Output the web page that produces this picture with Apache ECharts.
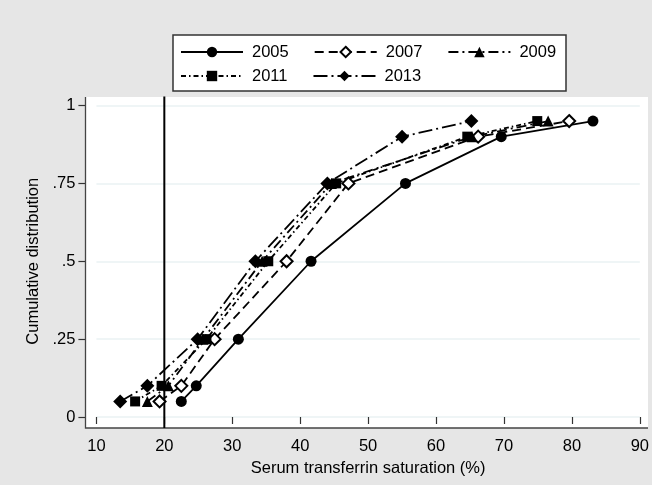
<!DOCTYPE html>
<html>
<head>
<meta charset="utf-8">
<script src="https://cdn.jsdelivr.net/npm/echarts@6/dist/echarts.min.js"></script>
<style>
html,body{margin:0;padding:0;background:#e6e6e6;}
#c{width:652px;height:485px;background:#e6e6e6;}
</style>
</head>
<body>
<div id="c"></div>
<script>
// Cumulative levels (y) and serum transferrin saturation (x, %) per survey year
const levels = [0.05, 0.10, 0.25, 0.50, 0.75, 0.90, 0.95];
const sat2005 = [22.5, 24.7, 30.9, 41.6, 55.5, 69.6, 83.1];
const sat2007 = [19.3, 22.5, 27.4, 38.0, 47.1, 66.2, 79.6];
const sat2009 = [17.5, 20.6, 25.7, 34.4, 44.6, 65.3, 76.5];
const sat2011 = [15.7, 19.6, 26.2, 35.3, 45.3, 64.6, 74.9];
const sat2013 = [13.5, 17.5, 24.9, 33.4, 44.0, 55.0, 65.2];
const years = ['2005', '2007', '2009', '2011', '2013'];
const refX = 20;
const yTickLabels = {0: '0', 0.25: '.25', 0.5: '.5', 0.75: '.75', 1: '1'};

const FONT = 'Liberation Sans, Arial, Helvetica, sans-serif';
const FS = 16.5;
const BG = '#e6e6e6';

function pts(xs) { return xs.map((x, i) => [x, levels[i]]); }

const styles = [
  {data: sat2005, symbol: 'circle', size: 11, dash: 'solid', fill: '#000'},
  {data: sat2007, symbol: 'diamond', size: 12, dash: [9, 5], fill: '#fff'},
  {data: sat2009, symbol: 'triangle', size: 11, dash: [10, 4, 2, 4], fill: '#000'},
  {data: sat2011, symbol: 'rect', size: 10, dash: [5, 3, 1.5, 3], fill: '#000'},
  {data: sat2013, symbol: 'diamond', size: 14, dash: [14, 4, 2, 4], fill: '#000'}
];

const series = years.map((y, i) => {
  const s = styles[i];
  return {
    name: y,
    type: 'line',
    data: pts(s.data),
    symbol: s.symbol,
    symbolSize: s.size,
    showAllSymbol: true,
    clip: false,
    lineStyle: {color: '#000', width: 1.8, type: s.dash},
    itemStyle: {color: s.fill, borderColor: '#000', borderWidth: s.fill === '#fff' ? 2 : 0},
    emphasis: {disabled: true},
    animation: false,
    z: 3
  };
});

series.push({
  name: 'ref',
  type: 'line',
  data: [[refX, -0.035], [refX, 1.029]],
  symbol: 'none',
  clip: false,
  lineStyle: {color: '#000', width: 2},
  silent: true,
  animation: false,
  z: 2
});

const chart = echarts.init(document.getElementById('c'), null, {renderer: 'canvas'});
const legendCommon = {
  itemWidth: 62, itemHeight: 13, itemGap: 25, padding: 0, selectedMode: false,
  textStyle: {fontFamily: FONT, fontSize: FS, color: '#000', padding: [0, 0, 0, 4]}
};
chart.setOption({
  backgroundColor: BG,
  animation: false,
  graphic: [
    {type: 'rect', shape: {x: 0, y: 0, width: 652, height: 485}, style: {fill: BG}, z: -20, silent: true},
    {type: 'rect', shape: {x: 85.5, y: 97, width: 562.5, height: 331}, style: {fill: '#fff'}, z: -10, silent: true},
    {type: 'polyline', shape: {points: [[85.5, 97], [85.5, 428], [648, 428]]}, style: {stroke: '#444', lineWidth: 1.3, fill: null}, z: 1, silent: true},
    {type: 'rect', shape: {x: 173, y: 35, width: 393, height: 56}, style: {fill: '#fff', stroke: '#333', lineWidth: 1.5}, z: -10, silent: true}
  ],
  grid: {left: 96.4, right: 12, top: 105.5, bottom: 68, containLabel: false},
  legend: [
    Object.assign({data: ['2005', '2007', '2009'], left: 180, top: 43.5}, legendCommon),
    Object.assign({data: ['2011', '2013'], left: 180, top: 67.5}, legendCommon)
  ],
  xAxis: {
    type: 'value', min: 10, max: 90, interval: 10, offset: 11,
    name: 'Serum transferrin saturation (%)', nameLocation: 'middle', nameGap: 23,
    nameTextStyle: {fontFamily: FONT, fontSize: FS, color: '#000'},
    axisLine: {show: false},
    axisTick: {show: true, length: 7, lineStyle: {color: '#333', width: 1.2}},
    axisLabel: {fontFamily: FONT, fontSize: FS, color: '#000', margin: 10},
    splitLine: {show: false}
  },
  yAxis: {
    type: 'value', min: 0, max: 1, interval: 0.25, offset: 11,
    name: 'Cumulative distribution', nameLocation: 'middle', nameGap: 38, nameRotate: 90,
    nameTextStyle: {fontFamily: FONT, fontSize: FS, color: '#000'},
    axisLine: {show: false},
    axisTick: {show: true, length: 7, lineStyle: {color: '#333', width: 1.2}},
    axisLabel: {fontFamily: FONT, fontSize: FS, color: '#000', margin: 10,
      formatter: v => yTickLabels[v] !== undefined ? yTickLabels[v] : ''},
    splitLine: {show: true, lineStyle: {color: '#eaf2f3', width: 1.5}}
  },
  series: series
});
</script>
</body>
</html>
